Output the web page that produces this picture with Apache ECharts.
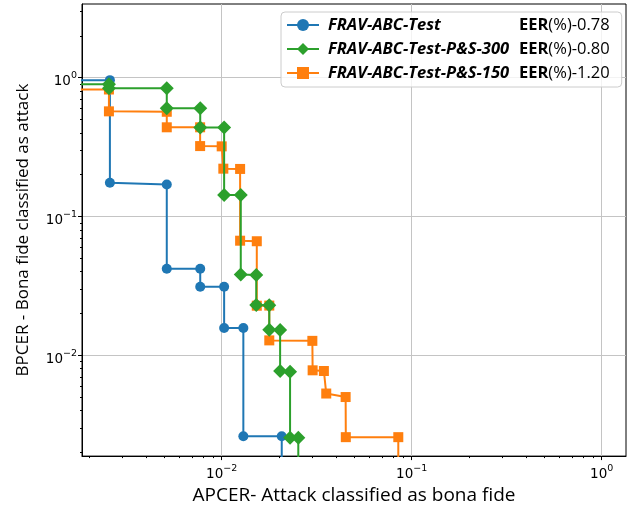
<!DOCTYPE html>
<html><head><meta charset="utf-8">
<script src="https://cdn.jsdelivr.net/npm/echarts@6/dist/echarts.min.js"></script>
<style>html,body{margin:0;padding:0;background:#fff}#c{width:636px;height:510px}</style>
</head><body><div id="c"></div>
<script>
// ---- data ----
const seriesNames = ['FRAV-ABC-Test', 'FRAV-ABC-Test-P&S-300', 'FRAV-ABC-Test-P&S-150'];
const eerValues = ['0.78', '0.80', '1.20'];

// 1e-4 stands for the clipped zero values that run off the plot edge
const blueX = [1e-4, 0.00258, 0.00258, 0.00514, 0.00514, 0.00771, 0.00771, 0.0103, 0.0103, 0.0130, 0.0130, 0.0207, 0.0207];
const blueY = [0.96, 0.96, 0.175, 0.170, 0.042, 0.042, 0.0312, 0.0312, 0.0157, 0.0157, 0.00261, 0.00261, 1e-4];

const greenX = [1e-4, 0.00255, 0.00255, 0.00514, 0.00514, 0.00771, 0.00771, 0.0103, 0.0103, 0.0126, 0.0126, 0.0152, 0.0152, 0.0178, 0.0178, 0.0203, 0.0203, 0.0229, 0.0229, 0.0253, 0.0253];
const greenY = [0.895, 0.895, 0.84, 0.84, 0.601, 0.601, 0.437, 0.437, 0.143, 0.143, 0.0382, 0.0378, 0.0230, 0.0229, 0.0153, 0.0152, 0.0077, 0.0076, 0.00254, 0.00254, 1e-4];

const orangeX = [1e-4, 0.00255, 0.00255, 0.00514, 0.00514, 0.0077, 0.0077, 0.0100, 0.0102, 0.0125, 0.0125, 0.0153, 0.0153, 0.0178, 0.0178, 0.0300, 0.0301, 0.0345, 0.0355, 0.0449, 0.0450, 0.0850, 0.0850];
const orangeY = [0.822, 0.822, 0.572, 0.568, 0.439, 0.439, 0.3215, 0.320, 0.221, 0.220, 0.0669, 0.0663, 0.02275, 0.0228, 0.0128, 0.0127, 0.00779, 0.0077, 0.0053, 0.0050, 0.00257, 0.00257, 1e-4];

const xMajor = [0.01, 0.1, 1];
const yMajor = [0.01, 0.1, 1];
const xMinor = [0.002,0.003,0.004,0.005,0.006,0.007,0.008,0.009,0.02,0.03,0.04,0.05,0.06,0.07,0.08,0.09,0.2,0.3,0.4,0.5,0.6,0.7,0.8,0.9];
const yMinor = [0.002,0.003,0.004,0.005,0.006,0.007,0.008,0.009,0.02,0.03,0.04,0.05,0.06,0.07,0.08,0.09,0.2,0.3,0.4,0.5,0.6,0.7,0.8,0.9,2,3];

const xMin = 0.00184, xMax = 1.342;
const yMin = 0.001877, yMax = 3.395;

// ---- chart ----
const zip = (xs, ys) => xs.map((x, i) => [x, ys[i]]);
const tickFmt = v => {
  const e = Math.round(Math.log10(v));
  return '{b|10}{s|' + (e < 0 ? '\u2212' + (-e) : String(e)) + '}';
};
const tickRich = {
  b: { fontFamily: 'DejaVu Sans', fontSize: 13.5, color: '#000', lineHeight: 18, verticalAlign: 'bottom' },
  s: { fontFamily: 'DejaVu Sans', fontSize: 9.5, color: '#000', lineHeight: 9, verticalAlign: 'top' }
};
const font = 'Open Sans';

const chart = echarts.init(document.getElementById('c'), null, { renderer: 'canvas' });
chart.setOption({
  animation: false,
  backgroundColor: '#fff',
  grid: { left: 82, right: 10, top: 4, bottom: 50, show: true, borderColor: '#000', borderWidth: 1, backgroundColor: 'transparent' },
  legend: {
    data: seriesNames,
    orient: 'vertical',
    left: 281, top: 12,
    padding: [4, 12, 5, 5],
    itemGap: 6,
    itemWidth: 32, itemHeight: 15,
    backgroundColor: 'rgba(255,255,255,0.8)',
    borderColor: '#cccccc', borderWidth: 1, borderRadius: 4,
    formatter: name => {
      const i = seriesNames.indexOf(name);
      return '{n|' + name + '}{e|EER}{v|(%)-' + eerValues[i] + '}';
    },
    textStyle: {
      lineHeight: 18,
      rich: {
        n: { fontFamily: font, fontSize: 16.5, fontWeight: 'bold', fontStyle: 'italic', color: '#000', width: 191, height: 18, lineHeight: 18, padding: [0, 0, 0, 4] },
        e: { fontFamily: font, fontSize: 16.5, fontWeight: 'bold', color: '#000', height: 18, lineHeight: 18 },
        v: { fontFamily: font, fontSize: 16.5, color: '#000', height: 18, lineHeight: 18 }
      }
    }
  },
  xAxis: [
    {
      type: 'log', logBase: 10, min: xMin, max: xMax, position: 'bottom',
      name: 'APCER- Attack classified as bona fide', nameLocation: 'middle', nameGap: 24,
      nameTextStyle: { fontFamily: font, fontSize: 19, color: '#000' },
      axisLine: { show: true, lineStyle: { color: '#000', width: 1 } },
      axisTick: { show: true, length: 4, customValues: xMajor, lineStyle: { color: '#000', width: 1 } },
      axisLabel: { customValues: xMajor, formatter: tickFmt, rich: tickRich, margin: 7 },
      splitLine: { show: true, lineStyle: { color: '#c4c4c4', width: 1 } }
    },
    {
      type: 'log', logBase: 10, min: xMin, max: xMax, position: 'bottom',
      axisLine: { show: false },
      axisTick: { show: true, length: 2, customValues: xMinor, lineStyle: { color: '#000', width: 1 } },
      axisLabel: { show: false }, splitLine: { show: false }
    }
  ],
  yAxis: [
    {
      type: 'log', logBase: 10, min: yMin, max: yMax, position: 'left',
      name: 'BPCER - Bona fide classified as attack', nameLocation: 'middle', nameGap: 50,
      nameTextStyle: { fontFamily: font, fontSize: 17, color: '#000' },
      axisLine: { show: true, lineStyle: { color: '#000', width: 1 } },
      axisTick: { show: true, length: 4, customValues: yMajor, lineStyle: { color: '#000', width: 1 } },
      axisLabel: { customValues: yMajor, formatter: tickFmt, rich: tickRich, margin: 5, padding: [4, 0, 0, 0] },
      splitLine: { show: true, lineStyle: { color: '#c4c4c4', width: 1 } }
    },
    {
      type: 'log', logBase: 10, min: yMin, max: yMax, position: 'left',
      axisLine: { show: false },
      axisTick: { show: true, length: 2, customValues: yMinor, lineStyle: { color: '#000', width: 1 } },
      axisLabel: { show: false }, splitLine: { show: false }
    }
  ],
  series: [
    {
      name: seriesNames[0], type: 'line', data: zip(blueX, blueY), z: 2,
      symbol: 'circle', symbolSize: 10, showAllSymbol: true, clip: true,
      itemStyle: { color: '#1f77b4' }, lineStyle: { color: '#1f77b4', width: 2 }
    },
    {
      name: seriesNames[2], type: 'line', data: zip(orangeX, orangeY), z: 3,
      symbol: 'rect', symbolSize: 10, showAllSymbol: true, clip: true,
      itemStyle: { color: '#ff7f0e' }, lineStyle: { color: '#ff7f0e', width: 2 }
    },
    {
      name: seriesNames[1], type: 'line', data: zip(greenX, greenY), z: 4,
      symbol: 'diamond', symbolSize: 14, showAllSymbol: true, clip: true,
      itemStyle: { color: '#2ca02c' }, lineStyle: { color: '#2ca02c', width: 2 }
    }
  ]
});
</script>
</body></html>
